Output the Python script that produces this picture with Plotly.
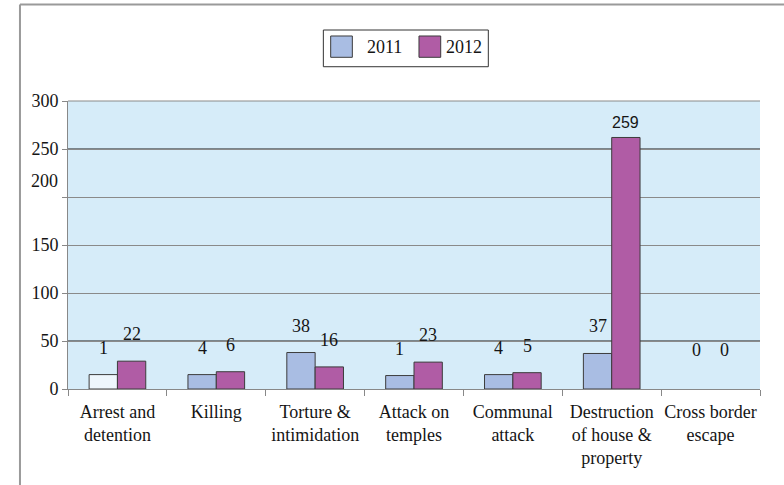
import plotly.graph_objects as go

categories = ["Arrest and<br>detention", "Killing", "Torture &<br>intimidation",
              "Attack on<br>temples", "Communal<br>attack",
              "Destruction<br>of house &<br>property", "Cross border<br>escape"]
series_names = ["2011", "2012"]
heights_2011 = [15, 15, 38, 14, 15, 37, 0]
heights_2012 = [29, 18, 23, 28, 17, 262, 0]
labels_2011 = ["1", "4", "38", "1", "4", "37", "0"]
labels_2012 = ["22", "6", "16", "23", "5", "259", "0"]
y_ticks = [0, 50, 100, 150, 200, 250, 300]

SERIF = "Liberation Serif"
TXT = "#151515"
C2011 = "#a9bde3"
C2012 = "#b05ca5"
colors_2011 = ["#eef6fc"] + [C2011] * (len(categories) - 1)


def line_widths(hs):
    return [1 if h > 0 else 0 for h in hs]


fig = go.Figure()
fig.add_trace(go.Bar(x=categories, y=heights_2011, name=series_names[0],
                     marker=dict(color=colors_2011,
                                 line=dict(color="#3c3c3c", width=line_widths(heights_2011))),
                     hoverinfo="skip"))
fig.add_trace(go.Bar(x=categories, y=heights_2012, name=series_names[1],
                     marker=dict(color=C2012,
                                 line=dict(color="#3c3c3c", width=line_widths(heights_2012))),
                     hoverinfo="skip"))

annotations = []
half = 14.2
for heights, labels, sh in ((heights_2011, labels_2011, -half), (heights_2012, labels_2012, half)):
    for c, h, t in zip(categories, heights, labels):
        big = h > 200
        annotations.append(dict(
            x=c, y=max(h, 13), xref="x", yref="y", text=t, showarrow=False,
            xshift=sh, yshift=15 if big else 27, yanchor="middle",
            font=dict(family="Liberation Sans" if big else SERIF,
                      size=16 if big else 18, color=TXT)))

# misplaced "200" tick label as in the reference
annotations.append(dict(x=0, xref="paper", y=200, yref="y", text="200", showarrow=False,
                        xanchor="right", xshift=-8, yshift=16,
                        font=dict(family=SERIF, size=18, color=TXT)))

# manual legend
annotations.append(dict(x=0.4292, y=1.1885, xref="paper", yref="paper", text="2011",
                        showarrow=False, xanchor="left", yanchor="middle",
                        font=dict(family=SERIF, size=18, color=TXT)))
annotations.append(dict(x=0.5434, y=1.1885, xref="paper", yref="paper", text="2012",
                        showarrow=False, xanchor="left", yanchor="middle",
                        font=dict(family=SERIF, size=18, color=TXT)))

shapes = [
    # outer frame (left and top)
    dict(type="line", xref="paper", yref="paper", x0=-0.0694, x1=-0.0694, y0=1.335, y1=-0.34,
         line=dict(color="#9a9a9a", width=2)),
    dict(type="line", xref="paper", yref="paper", x0=-0.0694, x1=1.05, y0=1.335, y1=1.335,
         line=dict(color="#9a9a9a", width=2)),
    # legend box
    dict(type="rect", xref="paper", yref="paper", x0=0.369, x1=0.6074, y0=1.119, y1=1.2465,
         line=dict(color="#333", width=1), fillcolor="white"),
    dict(type="rect", xref="paper", yref="paper", x0=0.3796, x1=0.4109, y0=1.1517, y1=1.2257,
         line=dict(color="#3c3c3c", width=1), fillcolor=C2011),
    dict(type="rect", xref="paper", yref="paper", x0=0.5072, x1=0.5386, y0=1.1517, y1=1.2257,
         line=dict(color="#3c3c3c", width=1), fillcolor=C2012),
]
for v in (50, 250):
    shapes.append(dict(type="line", xref="paper", yref="y", x0=0, x1=1, y0=v, y1=v,
                       layer="below", line=dict(color="#1e1e1e", width=1)))
# top border of plot area
shapes.append(dict(type="line", xref="paper", yref="paper", x0=0, x1=1, y0=1, y1=1,
                   line=dict(color="#8a8a8a", width=1)))

fig.update_layout(
    width=784, height=485, autosize=False,
    margin=dict(l=68, r=24, t=101, b=96),
    paper_bgcolor="white", plot_bgcolor="#d6ecf9",
    barmode="group", bargap=0.427, bargroupgap=0,
    showlegend=False,
    annotations=annotations, shapes=shapes,
    xaxis=dict(type="category", tickson="boundaries", ticks="outside", ticklen=6,
               tickcolor="#888", showline=True, linecolor="#888", linewidth=1,
               showgrid=False, tickangle=0, automargin=False, ticklabelstandoff=6,
               tickfont=dict(family=SERIF, size=18, color=TXT),
               fixedrange=True),
    yaxis=dict(range=[0, 300], tickvals=y_ticks,
               ticktext=[str(v) if v != 200 else "" for v in y_ticks],
               ticks="outside", ticklen=5, tickcolor="#888", automargin=False,
               showline=True, linecolor="#888", linewidth=1, mirror=False,
               showgrid=True, gridcolor="#8a8a8a", gridwidth=1, zeroline=False,
               tickfont=dict(family=SERIF, size=18, color=TXT), fixedrange=True),
)

fig.write_html("out.html", config={"displayModeBar": False},
               post_script="document.body.style.margin='0';document.body.style.overflow='hidden';")
